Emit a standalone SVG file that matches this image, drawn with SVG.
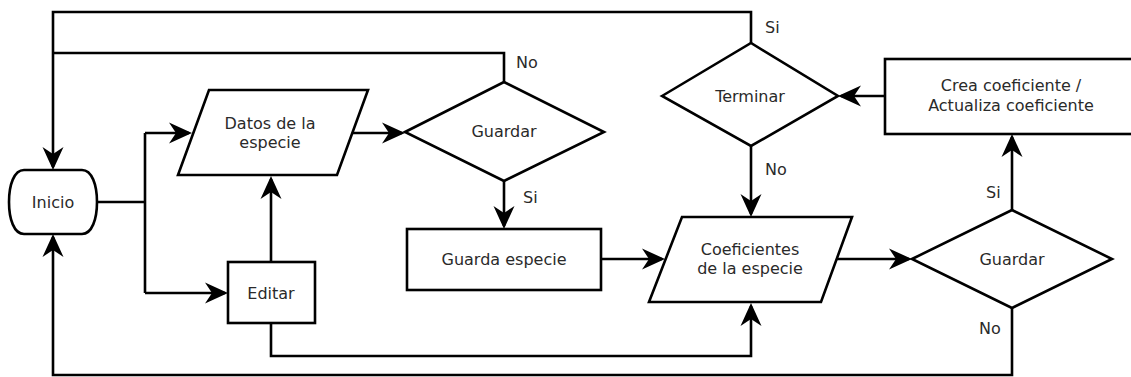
<svg xmlns="http://www.w3.org/2000/svg" width="1131" height="377" viewBox="0 0 1131 377">
<style>
.s{fill:#fff;stroke:#000;stroke-width:2.6;stroke-linejoin:miter}
.c{fill:none;stroke:#000;stroke-width:2.6}
.t{font-family:"DejaVu Sans",sans-serif;font-size:16px;fill:#2a2a2a;text-anchor:middle}
.l{font-family:"DejaVu Sans",sans-serif;font-size:16px;fill:#2a2a2a}
</style>
<defs>
<marker id="a" markerUnits="userSpaceOnUse" viewBox="-24 -12 28 24" refX="0" refY="0" markerWidth="28" markerHeight="24" orient="auto" overflow="visible">
<path d="M3,0 L-20,-10.5 L-13,0 L-20,10.5 Z" fill="#000"/>
</marker>
</defs>
<rect width="1131" height="377" fill="#fff"/>
<g id="connectors">
<path class="c" d="M751,43 V12 H53 V167" marker-end="url(#a)"/>
<path class="c" d="M504,82 V53 H53"/>
<path class="c" d="M1012,308 V375 H53 V237" marker-end="url(#a)"/>
<path class="c" d="M97,202 H145 M145,133 V293 M145,133 H189" marker-end="url(#a)"/>
<path class="c" d="M145,293 H225" marker-end="url(#a)"/>
<path class="c" d="M271,262 V179" marker-end="url(#a)"/>
<path class="c" d="M271,323 V356 H751 V306" marker-end="url(#a)"/>
<path class="c" d="M352,133 H402" marker-end="url(#a)"/>
<path class="c" d="M504,181 V226" marker-end="url(#a)"/>
<path class="c" d="M601,259 H662" marker-end="url(#a)"/>
<path class="c" d="M751,146 V214" marker-end="url(#a)"/>
<path class="c" d="M837,259 H909" marker-end="url(#a)"/>
<path class="c" d="M1012,210 V137" marker-end="url(#a)"/>
<path class="c" d="M885,96 H841" marker-end="url(#a)"/>
</g>
<g id="labels">
<text class="l" x="516" y="68">No</text>
<text class="l" x="523" y="203">Si</text>
<text class="l" x="765" y="33">Si</text>
<text class="l" x="765" y="175">No</text>
<text class="l" x="986" y="198">Si</text>
<text class="l" x="979" y="334">No</text>
</g>
<g id="inicio">
<path class="s" d="M24,170 H82 C92,170 97,185 97,202 C97,219 92,234 82,234 H24 C14,234 9,219 9,202 C9,185 14,170 24,170 Z"/>
<text class="t" x="53" y="208">Inicio</text>
</g>
<g id="datos">
<path class="s" d="M209,90 H368 L337,175 H178 Z"/>
<text class="t" x="270" y="129">Datos de la</text>
<text class="t" x="270" y="148">especie</text>
</g>
<g id="editar">
<rect class="s" x="228" y="262" width="87" height="61"/>
<text class="t" x="271" y="299">Editar</text>
</g>
<g id="guardar1">
<path class="s" d="M405,132 L504,82 L604,132 L504,181 Z"/>
<text class="t" x="504" y="137">Guardar</text>
</g>
<g id="guarda-especie">
<rect class="s" x="407" y="229" width="194" height="61"/>
<text class="t" x="504" y="265">Guarda especie</text>
</g>
<g id="coeficientes">
<path class="s" d="M682,217 H852 L821,302 H649 Z"/>
<text class="t" x="750" y="255">Coeficientes</text>
<text class="t" x="750" y="274">de la especie</text>
</g>
<g id="terminar">
<path class="s" d="M662,96 L751,43 L838,96 L751,146 Z"/>
<text class="t" x="750" y="102">Terminar</text>
</g>
<g id="crea">
<rect class="s" x="885" y="59" width="270" height="75"/>
<text class="t" x="1011" y="91">Crea coeficiente /</text>
<text class="t" x="1011" y="111">Actualiza coeficiente</text>
</g>
<g id="guardar2">
<path class="s" d="M912,259 L1012,210 L1112,259 L1012,308 Z"/>
<text class="t" x="1012" y="265">Guardar</text>
</g>
</svg>
